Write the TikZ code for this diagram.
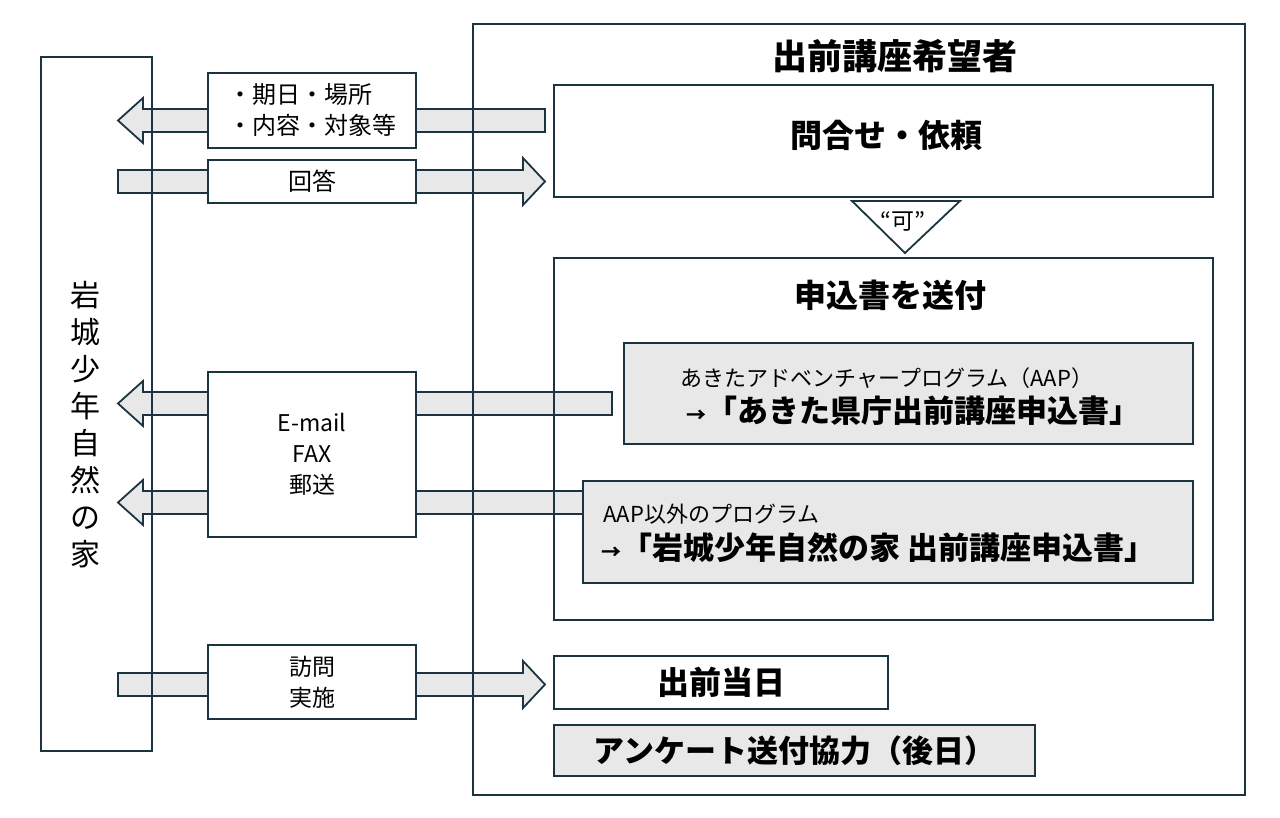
\documentclass[tikz,border=0pt]{standalone}
\usepackage{fontspec}
\setmainfont{Noto Sans CJK JP}
\setsansfont{Noto Sans CJK JP}
\begin{document}
\begin{tikzpicture}[x=1pt,y=-1pt,
  line/.style={draw=lc,line width=1.8pt},
  arr/.style={draw=lc,line width=1.8pt,fill=gf,line join=miter},
  box/.style={draw=lc,line width=1.8pt,fill=white},
  gbox/.style={draw=lc,line width=1.8pt,fill=gf},
  fs/.style={font=\fontsize{#1}{31}\selectfont},
  fb/.style={font=\fontsize{#1}{36}\selectfont\bfseries}]
\definecolor{lc}{HTML}{1C3440}
\definecolor{gf}{HTML}{E8E8E8}
\useasboundingbox (0,0) rectangle (1280,817);
% arrows (behind)
\draw[arr] (545,109)--(143,109)--(143,98)--(118,120.5)--(143,143)--(143,132)--(545,132)--cycle;
\draw[arr] (118,170)--(523,170)--(523,158)--(545,181.5)--(523,205)--(523,193)--(118,193)--cycle;
\draw[arr] (612,392)--(143,392)--(143,381)--(118,403.5)--(143,426)--(143,415)--(612,415)--cycle;
\draw[arr] (583,491)--(143,491)--(143,480)--(118,502.5)--(143,525)--(143,514)--(583,514)--cycle;
\draw[arr] (118,673)--(523,673)--(523,661)--(545,684.5)--(523,708)--(523,696)--(118,696)--cycle;
% outer boxes (lines over arrows)
\draw[line] (41,57) rectangle (152,751);
\node[font=\fontsize{30}{37}\selectfont,align=center,inner sep=0] (iwaki) at (85,425) {岩\\城\\少\\年\\自\\然\\の\\家};
\draw[line] (473,24) rectangle (1245,795);
\node[fb=35] (title) at (895,56) {出前講座希望者};
% label boxes
\node[box,minimum width=208pt,minimum height=75pt,fs=24,align=left] (l1) at (312,110.5) {・期日・場所\\・内容・対象等};
\node[box,minimum width=208pt,minimum height=43pt,fs=24] (l2) at (312,181.5) {回答};
\node[box,minimum width=208pt,minimum height=165pt,fs=23,align=center] (l3) at (312,454.5) {E-mail\\FAX\\郵送};
\node[box,minimum width=208pt,minimum height=74pt,fs=23,align=center] (l4) at (312,682) {訪問\\実施};
% right side
\node[box,minimum width=659pt,minimum height=112pt] (toi) at (883.5,141) {};
\node[fb=32] at (886,135) {問合せ・依頼};
\draw[line,fill=white] (852,201)--(960,201)--(905,253)--cycle;
\node[fs=23] (ka) at (903,221) {“可”};
\draw[line] (554,258) rectangle (1213,620);
\node[fb=32] (mou) at (890,295) {申込書を送付};
\node[gbox,minimum width=569pt,minimum height=101pt] (g1) at (908.5,393.5) {};
\node[fs=22] at (887,378) {あきたアドベンチャープログラム（AAP）};
\node[fb=31] at (913,411) {{\fontsize{20}{20}\selectfont →}「あきた県庁出前講座申込書」};
\node[gbox,minimum width=610pt,minimum height=102pt] (g2) at (888,532) {};
\node[fs=22,anchor=west] at (600,514) {AAP以外のプログラム};
\node[fb=31,anchor=west] at (598,548) {{\fontsize{20}{20}\selectfont →}「岩城少年自然の家 出前講座申込書」};
\node[box,minimum width=334pt,minimum height=53pt,fb=32] (demae) at (721,682.5) {出前当日};
\node[gbox,minimum width=481pt,minimum height=51pt,fb=31] (ank) at (794.5,750.5) {アンケート送付協力（後日）};
\end{tikzpicture}
\end{document}
